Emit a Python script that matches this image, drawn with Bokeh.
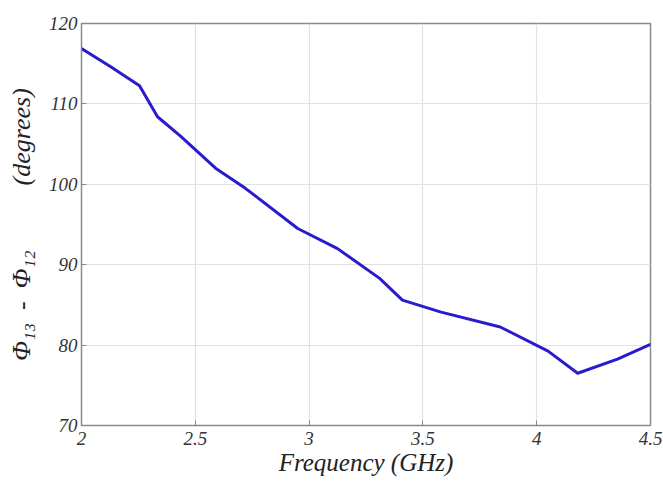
from bokeh.plotting import figure
from bokeh.embed import file_html
from bokeh.resources import INLINE
from bokeh.models import Range1d, FixedTicker

freq_ghz = [2.0, 2.13, 2.255, 2.334, 2.435, 2.589, 2.72, 2.95, 3.125, 3.31, 3.41, 3.58, 3.84, 4.05, 4.18, 4.355, 4.5]
phase_diff = [116.9, 114.6, 112.25, 108.4, 106.0, 102.0, 99.5, 94.5, 92.0, 88.3, 85.6, 84.1, 82.25, 79.25, 76.5, 78.25, 80.1]
x_ticks = [2, 2.5, 3, 3.5, 4, 4.5]
y_ticks = [70, 80, 90, 100, 110, 120]

p = figure(width=663, height=487, output_backend="svg", toolbar_location=None,
           x_range=Range1d(2, 4.5), y_range=Range1d(70, 120),
           min_border_left=81, min_border_right=13, min_border_top=23, min_border_bottom=62)
p.background_fill_color = "white"
p.border_fill_color = "white"
p.outline_line_color = "#8a8a8a"
p.outline_line_width = 1.5

p.line(freq_ghz, phase_diff, line_color="#2a1ccc", line_width=3)

font = "Liberation Serif"
for ax in (p.xaxis[0], p.yaxis[0]):
    ax.major_label_text_font = font
    ax.major_label_text_font_style = "italic"
    ax.major_label_text_font_size = "19px"
    ax.major_label_text_color = "#333333"
    ax.axis_label_text_font = font
    ax.axis_label_text_font_style = "italic"
    ax.axis_label_text_color = "#222222"
    ax.axis_line_color = "#8a8a8a"
    ax.major_tick_line_color = "#8a8a8a"
    ax.major_tick_in = 5
    ax.major_tick_out = 0
    ax.minor_tick_line_color = None

p.xaxis[0].ticker = FixedTicker(ticks=x_ticks)
p.yaxis[0].ticker = FixedTicker(ticks=y_ticks)
p.xaxis[0].axis_label = "Frequency (GHz)"
p.xaxis[0].axis_label_text_font_size = "25px"
p.xaxis[0].axis_label_standoff = 1
p.xaxis[0].major_label_standoff = 6
p.yaxis[0].axis_label = "\u03a6\u2081\u2083\u2002-\u2002\u03a6\u2081\u2082\u2003\u2003\u2002(degrees)"
p.yaxis[0].axis_label_text_font_size = "26px"
p.yaxis[0].axis_label_standoff = 10
p.yaxis[0].major_label_standoff = 4

p.grid.grid_line_color = "#e2e2e2"
p.grid.grid_line_width = 1.2

out = file_html(p, INLINE)
open("out.html", "w").write(out)
